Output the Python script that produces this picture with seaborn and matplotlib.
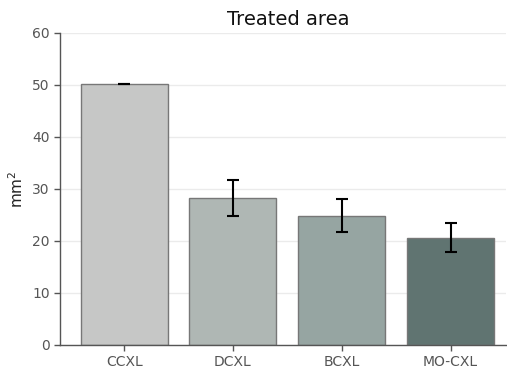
import matplotlib
matplotlib.use("Agg")
import matplotlib.pyplot as plt
import seaborn as sns
import pandas as pd

categories = ["CCXL", "DCXL", "BCXL", "MO-CXL"]
means = [50.2, 28.3, 24.9, 20.6]
errors = [0.05, 3.45, 3.1, 2.8]
colors = ["#c6c7c6", "#aeb8b5", "#93a8a4", "#5d7773"]

sns.set_theme(style="white")
plt.rcParams["font.family"] = ["DejaVu Sans"]

df = pd.DataFrame({"group": categories, "area": means})

fig = plt.figure(figsize=(5.07, 3.70), dpi=100)
ax = fig.add_axes([60 / 507, 25 / 370, 446 / 507, 312 / 370])

sns.barplot(data=df, x="group", y="area", hue="group", palette=colors,
            legend=False, errorbar=None, width=0.8, edgecolor="#777777",
            linewidth=1.0, ax=ax)
ax.errorbar(range(len(categories)), means, yerr=errors, fmt="none",
            ecolor="black", elinewidth=1.5, capsize=4.5, capthick=1.5, zorder=5)

ax.set_ylim(0, 60)
ax.set_xlim(-0.59, 3.51)
ax.set_yticks(range(0, 61, 10))
ax.yaxis.grid(True, color="#ebebeb", linewidth=1)
ax.set_axisbelow(True)

for side in ["top", "right"]:
    ax.spines[side].set_visible(False)
for side in ["left", "bottom"]:
    ax.spines[side].set_color("#555555")
    ax.spines[side].set_linewidth(1.0)

ax.tick_params(axis="both", colors="#555555", labelsize=10, length=4,
               width=1, left=True, bottom=True, labelcolor="#555555")
ax.set_xlabel("")
ax.set_ylabel("mm$^2$", fontsize=11, color="#222222")
ax.set_title("Treated area", fontsize=14, color="#111111", x=0.511)

fig.savefig("out.png", dpi=100)
